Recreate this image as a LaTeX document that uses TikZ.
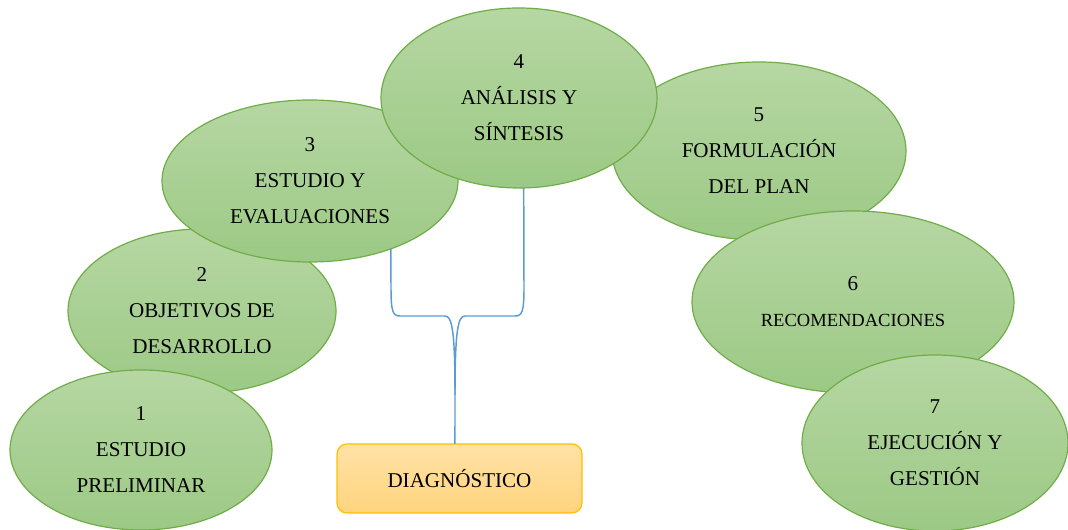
\documentclass[tikz,border=0pt]{standalone}
\usepackage{fontspec}
\setmainfont{Liberation Serif}
\usetikzlibrary{shapes.geometric}
\definecolor{hojaborde}{HTML}{70AD47}
\definecolor{hojaarriba}{HTML}{B6D7A3}
\definecolor{hojaabajo}{HTML}{9CC985}
\definecolor{cajaborde}{HTML}{FFC000}
\definecolor{cajaarriba}{HTML}{FFE2A6}
\definecolor{cajaabajo}{HTML}{FFD47E}
\definecolor{azulenlace}{HTML}{5B9BD5}
\begin{document}
\begin{tikzpicture}[x=0.75pt,y=-0.75pt,
  hoja/.style={ellipse,draw=hojaborde,line width=0.9pt,top color=hojaarriba,bottom color=hojaabajo,
    inner sep=0pt,outer sep=0pt,align=center,font=\fontsize{15.8}{27}\selectfont},
  caja/.style={rectangle,rounded corners=7.5pt,draw=cajaborde,line width=0.9pt,top color=cajaarriba,
    bottom color=cajaabajo,inner sep=0pt,outer sep=0pt,font=\fontsize{15.8}{19}\selectfont},
  enlace/.style={draw=azulenlace,line width=1.1pt}]
\useasboundingbox (0,0) rectangle (1068,530);
% etapas, de abajo hacia arriba en el orden en que se tapan
\node[hoja,minimum width=201pt,minimum height=123pt] (e2) at (202,311) {2\\OBJETIVOS DE\\DESARROLLO};
\node[hoja,minimum width=196.5pt,minimum height=120pt] (e1) at (141,450) {1\\ESTUDIO\\PRELIMINAR};
\node[hoja,minimum width=222pt,minimum height=121.5pt] (e3) at (310,181) {3\\ESTUDIO Y\\EVALUACIONES};
\node[hoja,minimum width=220.5pt,minimum height=133.5pt] (e5) at (759,151) {5\\FORMULACIÓN\\DEL PLAN};
\node[hoja,minimum width=207pt,minimum height=135pt] (e4) at (519,98) {4\\ANÁLISIS Y\\SÍNTESIS};
\node[hoja,minimum width=241.5pt,minimum height=136.5pt] (e6) at (853,302) {6\\{\fontsize{13.9}{27}\selectfont RECOMENDACIONES}};
\node[hoja,minimum width=199.5pt,minimum height=132pt] (e7) at (935,443) {7\\EJECUCIÓN Y\\GESTIÓN};
% diagnostico
\node[caja,minimum width=183.75pt,minimum height=51.75pt] (dx) at (459.5,478.5) {DIAGNÓSTICO};
% llave
\draw[enlace] (e3.-40) -- (391,288) .. controls (391,312) and (393,316) .. (400,316) -- (445,316)
  .. controls (452,316) and (455,330) .. (455,395) -- ([xshift=-3.4pt]dx.north);
\draw[enlace] (e4.-87) -- (524,288) .. controls (524,312) and (522,316) .. (515,316) -- (465,316)
  .. controls (458,316) and (455,330) .. (455,395);
\end{tikzpicture}
\end{document}
